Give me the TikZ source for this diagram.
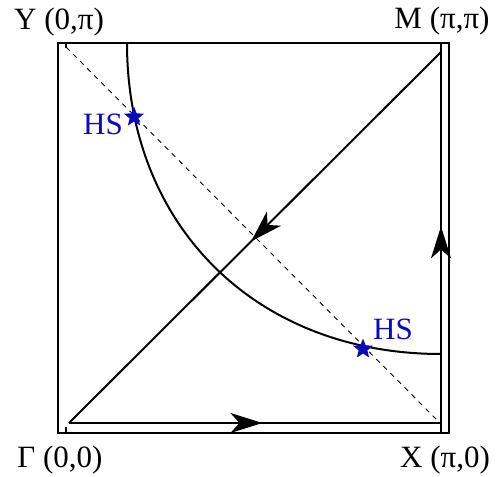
\documentclass[tikz,border=0pt]{standalone}
\usepackage{fontspec}
\setmainfont{Liberation Serif}
\usetikzlibrary{arrows.meta,decorations.markings,shapes.geometric}
\definecolor{hsblue}{RGB}{10,10,190}
\tikzset{
  line/.style={line width=2pt},
  frame/.style={line width=1.6pt},
  tick/.style={line width=1.2pt},
  midarrow/.style={postaction={decorate},decoration={markings,
      mark=at position #1 with {\arrow{Stealth[length=32pt,width=20pt,inset=9pt]}}}},
  hsstar/.style={star,star points=5,star point ratio=2.3,fill=hsblue,draw=none,minimum size=21pt,inner sep=0pt},
  lab/.style={font=\fontsize{31}{36}\selectfont,anchor=base,inner sep=0pt},
  hslab/.style={font=\fontsize{31}{36}\selectfont,anchor=base,inner sep=0pt,text=hsblue}
}
\begin{document}
\begin{tikzpicture}[x=1pt,y=-1pt]
\useasboundingbox (0,0) rectangle (496,477);
% frame
\draw[frame] (58,43) rectangle (449,433);
% points
\coordinate (G) at (69,423);
\coordinate (X) at (441,423);
\coordinate (M) at (441,52);
\coordinate (Y) at (66,47);
\coordinate (Xd) at (439,422);
\coordinate (VT) at (441,43);
\coordinate (VB) at (441,433);
\coordinate (TT) at (66,43);
\coordinate (TTb) at (66,48);
\coordinate (BT) at (66,427);
\coordinate (BTb) at (66,433);
\coordinate (C1) at (127,43);
\coordinate (C2) at (441,354);
% ticks
\draw[tick] (TT) -- (TTb);
\draw[tick] (BT) -- (BTb);
\draw[line] (VT) -- (VB);
% dashed diagonal
\draw[line width=0.9pt,dash pattern=on 5pt off 5pt] (Y) -- (Xd);
% curve
\draw[line] (C1) .. controls (127,227) and (257,354) .. (C2);
% path
\draw[line,midarrow=0.52] (G) -- (X);
\draw[line,midarrow=0.53] (X) -- (M);
\draw[line,midarrow=0.51] (M) -- (G);
% stars
\node[hsstar] (s1) at (134,117) {};
\node[hsstar] (s2) at (363,349) {};
\node[hslab] (h1) at (103,134) {HS};
\node[hslab] (h2) at (393,339) {HS};
% labels
\node[lab] (lY) at (59,29) {Y (0,π)};
\node[lab] (lM) at (442,28) {M (π,π)};
\node[lab] (lG) at (60,467) {Γ (0,0)};
\node[lab] (lX) at (445,467) {X (π,0)};
\end{tikzpicture}
\end{document}
